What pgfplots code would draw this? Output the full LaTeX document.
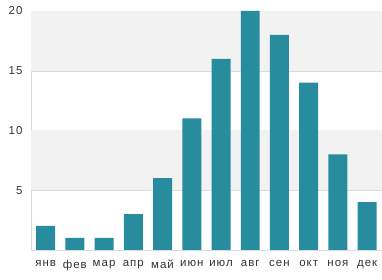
\documentclass[border=0pt]{standalone}
\usepackage{pgfplots}
\pgfplotsset{compat=1.18}
\usepackage{fontspec}
\setmainfont{Liberation Sans}[LetterSpace=9]
\definecolor{barc}{HTML}{288C9F}
\definecolor{band}{HTML}{F2F2F2}
\definecolor{gridc}{HTML}{DCDCDC}
\begin{document}
\begin{tikzpicture}
\begin{axis}[
  scale only axis,
  width=351bp, height=239bp,
  xmin=-0.5, xmax=11.5, ymin=0, ymax=20,
  axis line style={draw=gridc},
  axis x line*=bottom, axis y line*=left,
  ytick={5,10,15,20},
  xtick={0,...,11},
  xticklabels={янв,фев,мар,апр,май,июн,июл,авг,сен,окт,ноя,дек},
  major tick length=0pt,
  ymajorgrids, grid style={draw=gridc},
  tick label style={font=\fontsize{11.5}{13}\selectfont, text=black!80},
  /pgf/number format/assume math mode=true,
  yticklabel style={xshift=-5bp},
  xticklabel style={yshift=-7bp},
  clip=false,
]
\fill[band] (axis cs:-0.5,15) rectangle (axis cs:11.5,20);
\fill[band] (axis cs:-0.5,5) rectangle (axis cs:11.5,10);
\addplot[ybar, bar width=19bp, fill=barc, draw=none] coordinates {
(0,2) (1,1) (2,1) (3,3) (4,6) (5,11) (6,16) (7,20) (8,18) (9,14) (10,8) (11,4)};
\coordinate (sw) at (rel axis cs:0,0);
\coordinate (ne) at (rel axis cs:1,1);
\end{axis}
\path ([shift={(-31bp,-30bp)}]sw) rectangle ([shift={(0bp,11bp)}]ne);
\end{tikzpicture}
\end{document}
